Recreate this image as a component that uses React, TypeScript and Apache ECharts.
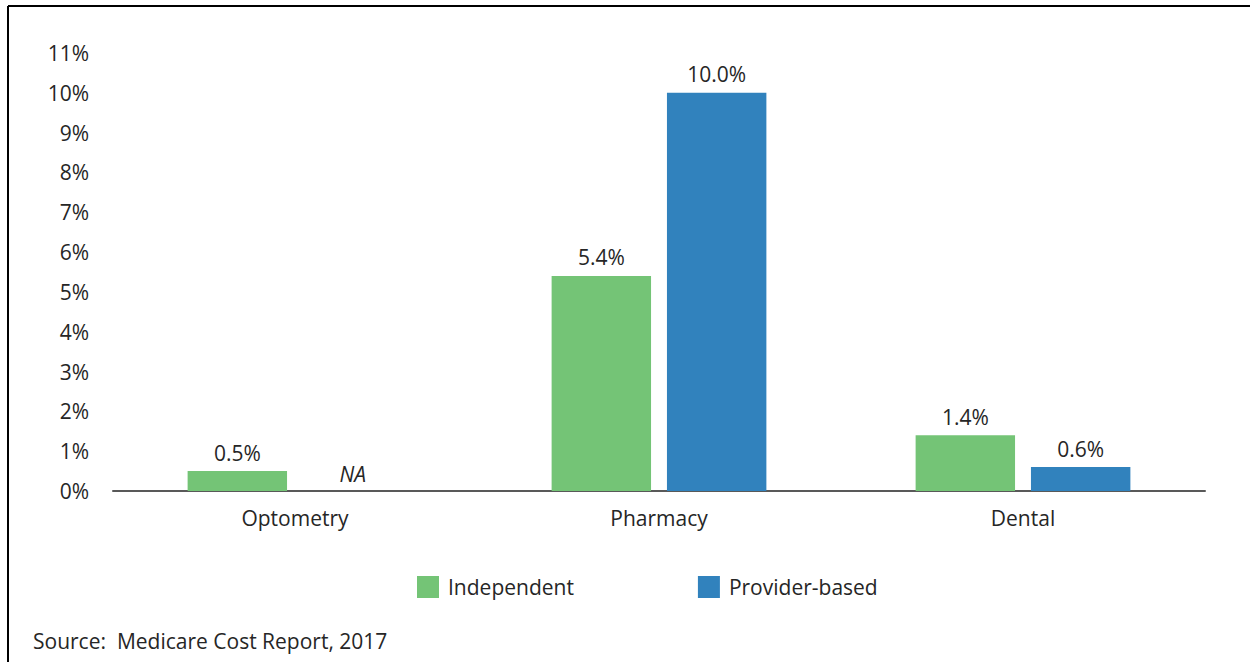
import React, { useEffect, useRef } from "react";
import * as echarts from "echarts";

const categories = ["Optometry", "Pharmacy", "Dental"];
const independent = [0.5, 5.4, 1.4];
const providerBased: (number | null)[] = [null, 10.0, 0.6];
const seriesNames = ["Independent", "Provider-based"];
const sourceNote = "Source:  Medicare Cost Report, 2017";

const FONT = "'Open Sans', sans-serif";
const TXT = "#262626";
const FS = 21;

export default function App() {
  const ref = useRef<HTMLDivElement>(null);
  useEffect(() => {
    const chart = echarts.init(ref.current!, null, { renderer: "svg" });
    const label = {
      show: true,
      position: "top" as const,
      distance: 8,
      color: TXT,
      fontFamily: FONT,
      fontSize: FS,
      formatter: (p: any) => `${Number(p.value).toFixed(1)}%`,
    };
    chart.setOption({
      animation: false,
      textStyle: { fontFamily: FONT },
      grid: { left: 113, right: 45, top: 53, bottom: 171, containLabel: false },
      legend: {
        data: seriesNames,
        top: 571,
        left: 412,
        icon: "rect",
        itemWidth: 22,
        itemHeight: 22,
        itemGap: 124,
        textStyle: { color: TXT, fontFamily: FONT, fontSize: FS, padding: [0, 0, 0, 4] },
      },
      xAxis: {
        type: "category",
        data: categories,
        axisLine: { lineStyle: { color: "#595959", width: 2 } },
        axisTick: { show: false },
        axisLabel: { color: TXT, fontFamily: FONT, fontSize: FS, margin: 16 },
      },
      yAxis: {
        type: "value",
        min: 0,
        max: 11,
        interval: 1,
        splitLine: { show: false },
        axisLine: { show: false },
        axisTick: { show: false },
        axisLabel: { color: TXT, fontFamily: FONT, fontSize: FS, margin: 24, formatter: "{value}%" },
      },
      series: [
        {
          name: seriesNames[0],
          type: "bar",
          data: independent,
          itemStyle: { color: "#74c476" },
          barGap: "16%",
          barCategoryGap: "41%",
          label,
        },
        {
          name: seriesNames[1],
          type: "bar",
          data: providerBased.map((v) =>
            v === null
              ? {
                  value: 0,
                  label: {
                    show: true,
                    position: "top",
                    distance: 7,
                    formatter: "NA",
                    fontStyle: "italic",
                    color: TXT,
                    fontFamily: FONT,
                    fontSize: FS,
                  },
                }
              : v
          ),
          itemStyle: { color: "#3182bd" },
          barGap: "16%",
          barCategoryGap: "41%",
          label,
        },
      ],
      graphic: [
        { type: "line", shape: { x1: 8, y1: 6, x2: 1250, y2: 6 }, style: { stroke: "#000", lineWidth: 2 } },
        { type: "line", shape: { x1: 8, y1: 6, x2: 8, y2: 662 }, style: { stroke: "#000", lineWidth: 2 } },
        {
          type: "text",
          left: 33,
          top: 630,
          style: { text: sourceNote, fill: TXT, font: `${FS}px ${FONT}` },
        },
      ],
    });
    return () => chart.dispose();
  }, []);
  return (
    <div
      ref={ref}
      style={{ position: "fixed", left: 0, top: 0, width: 1250, height: 662, background: "#fff" }}
    />
  );
}
